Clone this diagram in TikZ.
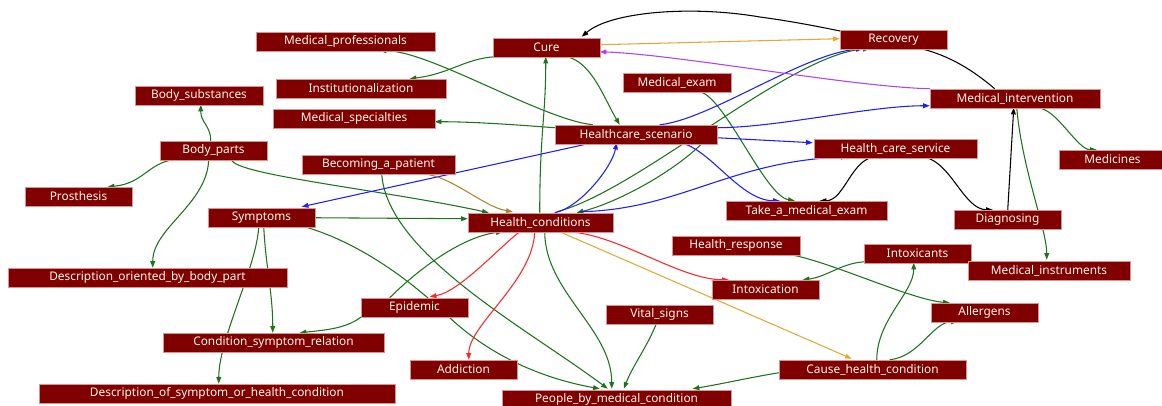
\documentclass[tikz,border=0pt]{standalone}
\usepackage{fontspec}
\setmainfont{Noto Sans}
\usetikzlibrary{arrows.meta,calc,backgrounds}
\definecolor{nodefill}{RGB}{128,0,0}
\definecolor{nodeborder}{RGB}{215,150,150}
\definecolor{nodetext}{RGB}{255,248,235}
\definecolor{egreen}{RGB}{30,115,30}
\definecolor{eblue}{RGB}{30,30,250}
\definecolor{ered}{RGB}{250,40,40}
\definecolor{egold}{RGB}{225,170,55}
\definecolor{eolive}{RGB}{170,135,45}
\definecolor{epurple}{RGB}{175,65,240}
\tikzset{
  box/.style={fill=nodefill, draw=nodeborder, line width=0.4pt, text=nodetext,
    font=\fontsize{8.9}{10}\selectfont, minimum height=14.25pt, inner sep=0pt},
  wd/.style={minimum width=#1*0.75pt},
  edge/.style={line width=0.8pt, -{Triangle[length=5pt,width=3.6pt]}},
  ge/.style={edge, draw=egreen},
  be/.style={edge, draw=eblue},
  re/.style={edge, draw=ered},
  oe/.style={edge, draw=egold},
  ole/.style={edge, draw=eolive},
  pe/.style={edge, draw=epurple},
  ke/.style={edge, draw=black},
}
\begin{document}
\begin{tikzpicture}[x=0.75pt,y=-0.75pt]
\useasboundingbox (0,0) rectangle (1162,405);
% nodes
\node[box,wd=179] (medprof) at (345.5,41.5) {Medical\_professionals};
\node[box,wd=128] (bodysub) at (199,95.5) {Body\_substances};
\node[box,wd=170] (instit) at (361,88.5) {Institutionalization};
\node[box,wd=162] (medspec) at (354,118.5) {Medical\_specialties};
\node[box,wd=107] (bodyparts) at (213.5,150.5) {Body\_parts};
\node[box,wd=153] (becoming) at (378.5,164.5) {Becoming\_a\_patient};
\node[box,wd=107] (prosth) at (78.5,196.5) {Prosthesis};
\node[box,wd=107] (symptoms) at (261.5,217.5) {Symptoms};
\node[box,wd=279] (descbody) at (147.5,277.5) {Description\_oriented\_by\_body\_part};
\node[box,wd=221] (csr) at (273.5,342.5) {Condition\_symptom\_relation};
\node[box,wd=356] (descsym) at (217,393.5) {Description\_of\_symptom\_or\_health\_condition};
\node[box,wd=107] (epidemic) at (414.5,307.5) {Epidemic};
\node[box,wd=145] (hc) at (540.5,222.5) {Health\_conditions};
\node[box,wd=107] (addiction) at (463.5,369.5) {Addiction};
\node[box,wd=107] (vital) at (659.5,314.5) {Vital\_signs};
\node[box,wd=229] (people) at (616.5,399.5) {People\_by\_medical\_condition};
\node[box,wd=128] (hresp) at (736,245.5) {Health\_response};
\node[box,wd=107] (intoxication) at (765.5,289.5) {Intoxication};
\node[box,wd=161] (takeexam) at (806.5,210.5) {Take\_a\_medical\_exam};
\node[box,wd=107] (cure) at (546.5,47.5) {Cure};
\node[box,wd=108] (medexam) at (677,82.5) {Medical\_exam};
\node[box,wd=162] (hcs) at (636,134.5) {Healthcare\_scenario};
\node[box,wd=107] (recovery) at (893.5,39.5) {Recovery};
\node[box,wd=170] (medint) at (1015,98.5) {Medical\_intervention};
\node[box,wd=163] (hcserv) at (895.5,148.5) {Health\_care\_service};
\node[box,wd=107] (medicines) at (1112.5,159.5) {Medicines};
\node[box,wd=107] (diagnosing) at (1007.5,219.5) {Diagnosing};
\node[box,wd=107] (intoxicants) at (917.5,253.5) {Intoxicants};
\node[box,wd=162] (medinst) at (1049,270.5) {Medical\_instruments};
\node[box,wd=107] (allergens) at (984.5,312.5) {Allergens};
\node[box,wd=187] (cause) at (872.5,369.5) {Cause\_health\_condition};
% edges
\begin{scope}[on background layer]
% green
\draw[ge] ($(bodyparts.north west)+(51,0)$) .. controls +(0,-15) and +(0,18) .. ($(bodysub.north west)+(66,19)$);
\draw[ge] ($(bodyparts.north west)+(14,19)$) .. controls +(-25,3) and +(35,-3) .. ($(prosth.north west)+(83,0)$);
\draw[ge] ($(bodyparts.north west)+(49,19)$) .. controls +(-2,45) and +(0,-40) .. ($(descbody.north west)+(145,0)$);
\draw[ge] ($(bodyparts.north west)+(72,19)$) .. controls +(2,15) and +(-100,-22) .. ($(hc.north west)+(21,0)$);
\draw[ge] ($(symptoms.north west)+(107,10)$) -- ($(hc.north west)+(0,6)$);
\draw[ge] ($(symptoms.north west)+(56,19)$) .. controls +(2,40) and +(0,-40) .. ($(csr.north west)+(110,0)$);
\draw[ge] ($(symptoms.north west)+(51,19)$) .. controls +(-2,40) and +(0,-45) .. ($(descsym.north west)+(180,0)$);
\draw[ge] ($(symptoms.north west)+(97,19)$) .. controls (350,240) and (400,270) .. (450,318) .. controls (490,355) and (540,378) .. ($(people.north west)+(98,-1)$);
\draw[ge] ($(becoming.north west)+(80,19)$) .. controls +(5,80) and +(-80,-60) .. ($(people.north west)+(106,-1)$);
\draw[ge] ($(epidemic.north west)+(29,0)$) .. controls +(30,-30) and +(-40,5) .. ($(hc.north west)+(35,19)$);
\draw[ge] ($(epidemic.north west)+(2,18)$) .. controls +(-15,12) and +(30,-3) .. ($(csr.north west)+(137,0)$);
\draw[ge] ($(hc.north west)+(77,19)$) .. controls +(0,60) and +(0,-60) .. ($(people.north west)+(110,-1)$);
\draw[ge] ($(vital.north west)+(51,18)$) .. controls +(-10,25) and +(10,-25) .. ($(people.north west)+(122,-1)$);
\draw[ge] ($(cause.north west)+(0,13)$) .. controls +(-30,5) and +(30,-5) .. ($(people.north west)+(191,-1)$);
\draw[ge] ($(hc.north west)+(72,0)$) .. controls +(0,-80) and +(0,60) .. ($(cure.north west)+(53,19)$);
\draw[ge] ($(cure.north west)+(2,19)$) .. controls +(-30,2) and +(40,-5) .. ($(instit.north west)+(134,0)$);
\draw[ge] ($(hcs.north west)+(38,0)$) .. controls +(-50,-5) and +(50,0) .. ($(medprof.north west)+(124,19)$);
\draw[ge] ($(hcs.north west)+(0,3)$) .. controls +(-40,-3) and +(40,0) .. ($(medspec.north west)+(162,13)$);
\draw[ge] ($(cure.north west)+(74,19)$) .. controls +(25,5) and +(-15,-25) .. ($(hcs.north west)+(65,0)$);
\draw[ge] ($(medexam.north west)+(77,19)$) .. controls +(25,5) and +(-30,-5) .. ($(takeexam.north west)+(69,0)$);
\draw[ge] ($(hc.north west)+(89,-1)$) .. controls +(80,-20) and +(-80,5) .. ($(recovery.north west)+(30,19)$);
\draw[ge] ($(hcs.north west)+(148,18)$) .. controls +(-30,30) and +(40,-10) .. ($(hc.north west)+(109,0)$);
\draw[ge] ($(medint.north west)+(107,19)$) .. controls +(20,0) and +(-20,0) .. ($(medicines.north west)+(38,0)$);
\draw[ge] ($(medint.north west)+(87,19)$) .. controls +(5,60) and +(0,-30) .. ($(medinst.north west)+(79,-1)$);
\draw[ge] ($(cause.north west)+(98,0)$) .. controls +(0,-40) and +(0,30) .. ($(intoxicants.north west)+(50,19)$);
\draw[ge] ($(cause.north west)+(111,0)$) .. controls +(30,-3) and +(-25,0) .. ($(allergens.north west)+(27,19)$);
\draw[ge] ($(intoxicants.north west)+(4,18)$) .. controls +(-25,0) and +(25,-3) .. ($(intoxication.north west)+(91,0)$);
\draw[ge] ($(hresp.north west)+(113,18)$) .. controls +(40,5) and +(-40,-3) .. ($(allergens.north west)+(19,0)$);
% blue
\draw[be] ($(hcs.north west)+(38,18)$) -- ($(symptoms.north west)+(94,-1)$);
\draw[be] ($(hcs.north west)+(162,3)$) .. controls +(60,0) and +(-60,0) .. ($(medint.north west)+(0,17)$);
\draw[be] ($(hcs.north west)+(162,13)$) -- ($(hcserv.north west)+(-1,4)$);
\draw[be] ($(hcs.north west)+(105,0)$) .. controls +(50,-5) and +(-60,5) .. ($(recovery.north west)+(23,19)$);
\draw[be] ($(hcs.north west)+(125,18)$) .. controls +(30,5) and +(-40,0) .. ($(takeexam.north west)+(54,0)$);
\draw[be] ($(hc.north west)+(87,0)$) .. controls +(25,-5) and +(-5,25) .. ($(hcs.north west)+(62,18)$);
\draw[be] ($(hc.north west)+(112,-1)$) .. controls +(100,-2) and +(-120,5) .. ($(hcserv.north west)+(34,18)$);
% red
\draw[re] ($(hc.north west)+(52,19)$) .. controls +(-20,15) and +(30,-5) .. ($(epidemic.north west)+(69,-1)$);
\draw[re] ($(hc.north west)+(67,19)$) .. controls +(-2,50) and +(0,-35) .. ($(addiction.north west)+(59,0)$);
\draw[re] ($(hc.north west)+(97,19)$) .. controls +(50,0) and +(-50,0) .. ($(intoxication.north west)+(17,0)$);
% gold / olive / purple
\draw[oe] ($(hc.north west)+(92,19)$) -- ($(cause.north west)+(73,-1)$);
\draw[oe] ($(cure.north west)+(107,7)$) -- ($(recovery.north west)+(0,9)$);
\draw[ole] ($(becoming.north west)+(118,19)$) .. controls +(30,0) and +(-30,-5) .. ($(hc.north west)+(45,-1)$);
\draw[pe] ($(medint.north west)+(0,0)$) .. controls +(-80,-2) and +(80,3) .. ($(cure.north west)+(107,14)$);
% black
\draw[ke] ($(medint.north west)+(65,0)$) .. controls (975,72) and (950,55) .. (918,48) .. controls (880,40) and (820,25) .. (760,17) .. controls (690,5) and (610,12) .. ($(cure.north west)+(89,-1)$);
\draw[ke] ($(hcserv.north west)+(63,18)$) .. controls +(-25,0) and +(25,0) .. ($(takeexam.north west)+(94,0)$);
\draw[ke] ($(hcserv.north west)+(106,18)$) .. controls +(30,0) and +(-30,0) .. ($(diagnosing.north west)+(39,0)$);
\draw[ke] ($(diagnosing.north west)+(54,0)$) -- ($(medint.north west)+(84,19)$);
\end{scope}
\end{tikzpicture}
\end{document}
